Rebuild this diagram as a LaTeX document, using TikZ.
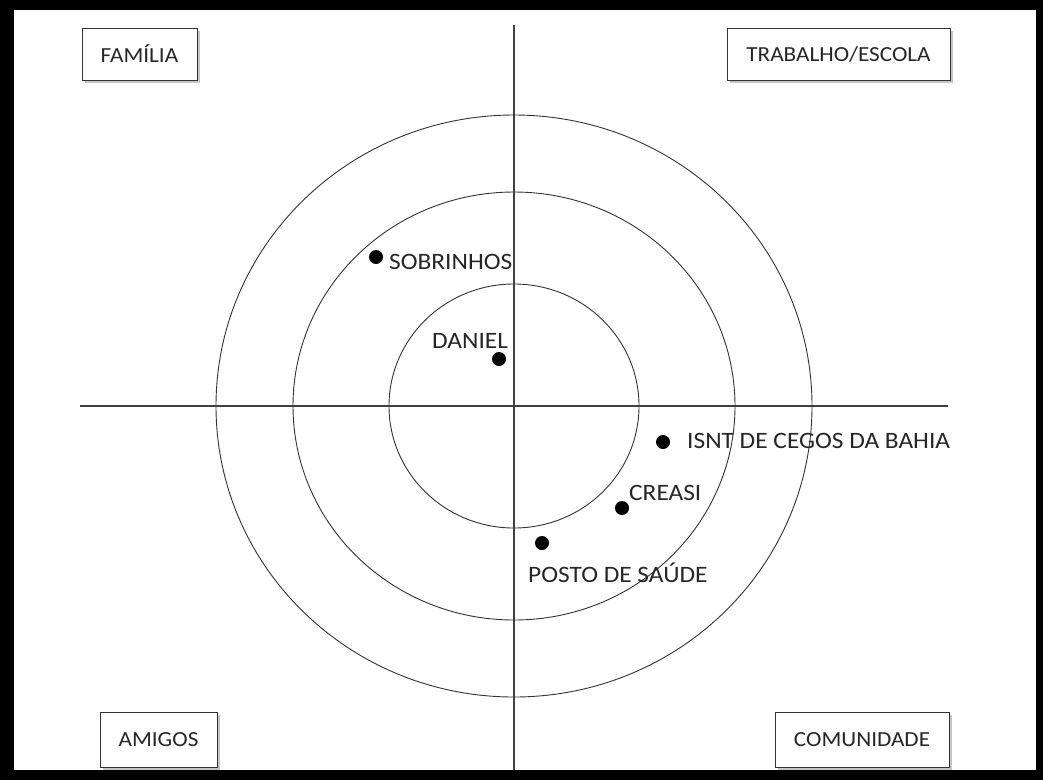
\documentclass[tikz,border=0pt]{standalone}
\usepackage{fontspec}
\setmainfont{Carlito}[FakeStretch=1.08]
\usetikzlibrary{shadows}

\tikzset{
  caixa/.style={draw=black!80,thick,fill=white,inner sep=0pt,
    drop shadow={shadow xshift=3pt,shadow yshift=-3pt,fill=black!45},
    font=\fontsize{21.5}{24}\selectfont,text=black!85},
  ponto/.style={circle,fill=black,inner sep=0pt,minimum size=14pt},
  rotulo/.style={inner sep=0pt,anchor=base west,
    font=\fontsize{23.5}{26}\selectfont,text=black!85},
  eixo/.style={black!75,line width=1.1pt},
  anel/.style={black!80,line width=0.9pt}
}

\begin{document}
\begin{tikzpicture}[x=1pt,y=-1pt]
  \useasboundingbox (0,0) rectangle (1043,780);
  % moldura preta
  \fill[black] (0,0) rectangle (1043,780);
  \fill[white] (14,10) rectangle (1036,770);

  % eixos
  \coordinate (centro) at (514,406);
  \coordinate (topo) at (514,25);
  \coordinate (base) at (514,770);
  \coordinate (esq) at (80,406);
  \coordinate (dir) at (948,406);
  \draw[eixo] (topo) -- (base);
  \draw[eixo] (esq) -- (dir);

  % anéis
  \draw[anel] (centro) ellipse [x radius=125pt,y radius=122pt];
  \draw[anel] (centro) ellipse [x radius=221pt,y radius=214pt];
  \draw[anel] (centro) ellipse [x radius=298pt,y radius=291pt];

  % quadrantes
  \node[caixa,minimum width=115pt,minimum height=52pt] (familia) at (139.5,54) {FAMÍLIA};
  \node[caixa,minimum width=223pt,minimum height=52pt] (trabalho) at (838.5,54) {TRABALHO/ESCOLA};
  \node[caixa,minimum width=117pt,minimum height=55pt] (amigos) at (158.5,739.5) {AMIGOS};
  \node[caixa,minimum width=174pt,minimum height=55pt] (comunidade) at (862,739.5) {COMUNIDADE};

  % pessoas e instituições
  \node[ponto] (sobrinhos) at (376,257) {};
  \node[ponto] (daniel) at (499,359) {};
  \node[ponto] (isnt) at (663,442) {};
  \node[ponto] (creasi) at (622,508) {};
  \node[ponto] (posto) at (542,543) {};

  \node[rotulo] (sobrinhoslbl) at (389,269) {SOBRINHOS};
  \node[rotulo] (daniellbl) at (432,348) {DANIEL};
  \node[rotulo] (isntlbl) at (687,448) {ISNT DE CEGOS DA BAHIA};
  \node[rotulo] (creasilbl) at (629,500) {CREASI};
  \node[rotulo] (postolbl) at (528,582) {POSTO DE SAÚDE};
\end{tikzpicture}
\end{document}
